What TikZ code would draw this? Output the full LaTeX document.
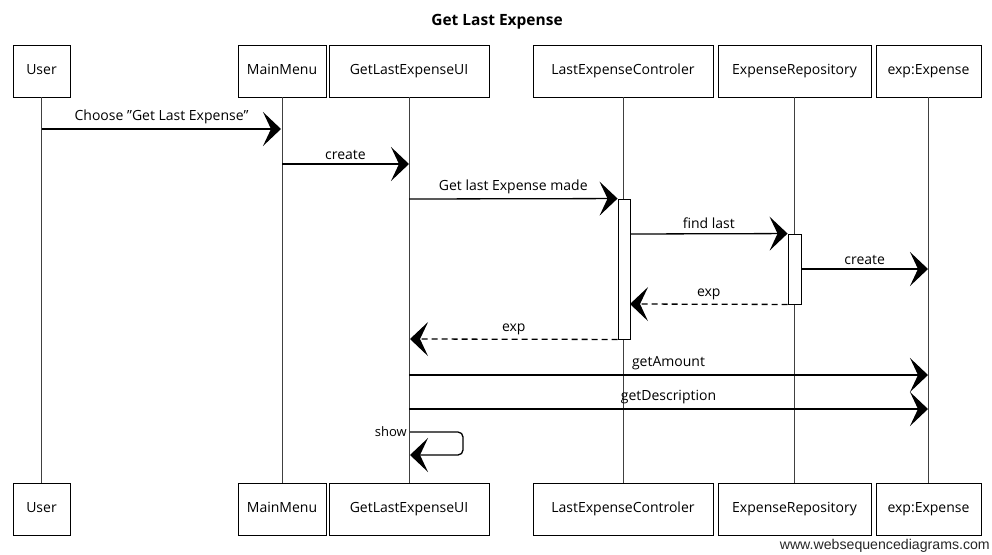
\documentclass[tikz,border=0pt]{standalone}
\usepackage{fontspec}
\usepackage{graphicx}
\setmainfont{Open Sans}
\newfontfamily\wmfont{Liberation Sans}
\usetikzlibrary{arrows.meta}
\begin{document}
\begin{tikzpicture}[x=1pt,y=-1pt,
  font=\fontsize{14}{16}\selectfont,
  pbox/.style={draw=black,line width=0.9pt,fill=white,minimum height=52pt,inner sep=0pt,text height=10pt,text depth=3pt},
  life/.style={draw=black!75,line width=0.7pt},
  act/.style={draw=black,line width=0.9pt,fill=white},
  msg/.style={draw=black,line width=1.3pt,-{Stealth[length=18pt,width=34pt,inset=8pt]}},
  ret/.style={msg,dashed,dash pattern=on 6pt off 4pt},
  lbl/.style={inner sep=1pt,anchor=base}]
\useasboundingbox (0,0) rectangle (992,554);
% title
\node[font=\fontsize{15.5}{17}\selectfont\bfseries] (title) at (497,22) {Get Last Expense};
% participants top
\node[pbox,minimum width=57pt]  (uT) at (41.5,71) {User};
\node[pbox,minimum width=88pt]  (mT) at (282,71) {MainMenu};
\node[pbox,minimum width=160pt] (gT) at (409,71) {GetLastExpenseUI};
\node[pbox,minimum width=180pt] (cT) at (623,71) {LastExpenseControler};
\node[pbox,minimum width=153pt] (rT) at (794.5,71) {ExpenseRepository};
\node[pbox,minimum width=105pt] (eT) at (928.5,71) {exp:Expense};
% participants bottom
\node[pbox,minimum width=57pt]  (uB) at (41.5,509) {User};
\node[pbox,minimum width=88pt]  (mB) at (282,509) {MainMenu};
\node[pbox,minimum width=160pt] (gB) at (409,509) {GetLastExpenseUI};
\node[pbox,minimum width=180pt] (cB) at (623,509) {LastExpenseControler};
\node[pbox,minimum width=153pt] (rB) at (794.5,509) {ExpenseRepository};
\node[pbox,minimum width=105pt] (eB) at (928.5,509) {exp:Expense};
% lifelines
\foreach \p in {u,m,g,c,r,e}{\draw[life] (\p T.south) -- (\p B.north);}
% activations
\node[act,minimum width=12pt,minimum height=140pt,inner sep=0pt] (cA) at (624,269) {};
\node[act,minimum width=13pt,minimum height=70pt,inner sep=0pt] (rA) at (794.5,269) {};
% message end points
\coordinate (m1a) at (42,129);   \coordinate (m1b) at (281,129);
\coordinate (m2a) at (282,164);  \coordinate (m2b) at (409,164);
\coordinate (m3a) at (409,199);  \coordinate (m3b) at (cA.north west);
\coordinate (m4a) at (630,234);  \coordinate (m4b) at (rA.north west);
\coordinate (m5a) at (rA.east |- 0,269); \coordinate (m5b) at (928,269);
\coordinate (m6a) at (rA.south west); \coordinate (m6b) at (630,304);
\coordinate (m7a) at (cA.south west); \coordinate (m7b) at (410,339);
\coordinate (m8a) at (409,375);  \coordinate (m8b) at (928,375);
\coordinate (m9a) at (409,409);  \coordinate (m9b) at (928,409);
\coordinate (s1) at (410,432);   \coordinate (s2) at (410,455);
% messages
\draw[msg] (m1a) -- node[lbl,above=3pt] {Choose \symbol{34}Get Last Expense\symbol{34}} (m1b);
\draw[msg] (m2a) -- node[lbl,above=3pt] {create} (m2b);
\draw[msg] (m3a) -- node[lbl,above=3pt] {Get last Expense made} (m3b);
\draw[msg] (m4a) -- node[lbl,above=3pt] {find last} (m4b);
\draw[msg] (m5a) -- node[lbl,above=3pt] {create} (m5b);
\draw[ret] (m6a) -- node[lbl,above=3pt] {exp} (m6b);
\draw[ret] (m7a) -- node[lbl,above=3pt] {exp} (m7b);
\draw[msg] (m8a) -- node[lbl,above=3pt] {getAmount} (m8b);
\draw[msg] (m9a) -- node[lbl,above=3pt] {getDescription} (m9b);
\draw[msg,rounded corners=5pt] (s1) -- ++(53,0) -- ++(0,23) -- (s2);
\node[anchor=east,inner sep=3pt] (showl) at (s1) {\fontsize{13}{14}\selectfont show};
% watermark
\node[anchor=south east,inner sep=0pt] (wm) at (990,553) {\resizebox{210pt}{!}{\wmfont\color{black!85}www.websequencediagrams.com}};
\end{tikzpicture}
\end{document}
